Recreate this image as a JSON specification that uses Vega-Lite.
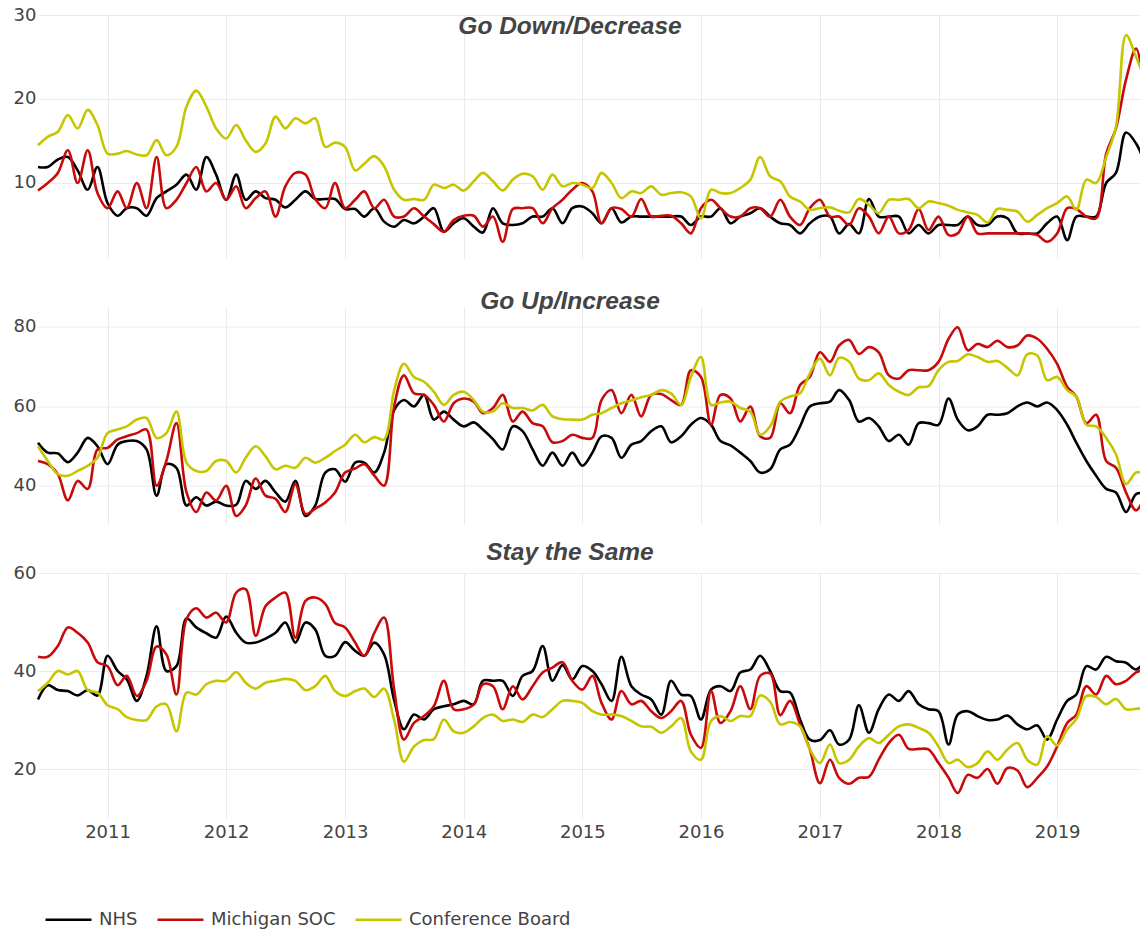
{
"$schema": "https://vega.github.io/schema/vega-lite/v6.json",
"background": "white",
"padding": {"left": 0, "top": 6, "right": 0, "bottom": 0},
"autosize": {"type": "pad"},
"bounds": "flush",
"spacing": 48.5,
"config": {
  "view": {"stroke": null},
  "axis": {"labelFont": "DejaVu Sans", "labelFontSize": 18, "labelColor": "#444", "gridColor": "#ebebeb", "gridWidth": 1, "domain": false, "ticks": false, "title": null, "labelFlush": false},
  "title": {"font": "Liberation Sans", "fontSize": 24.5, "fontStyle": "italic", "fontWeight": "bold", "color": "#444", "anchor": "middle", "frame": "group", "baseline": "alphabetic", "dx": -19},
  "line": {"strokeWidth": 2.6, "interpolate": "catmull-rom", "clip": true}
},
"datasets": {
"down": [
{"d":"2010-06-01","NHS":11.9,"Michigan SOC":9.1,"Conference Board":14.5},
{"d":"2010-07-01","NHS":11.9,"Michigan SOC":10.0,"Conference Board":15.5},
{"d":"2010-08-01","NHS":12.8,"Michigan SOC":11.2,"Conference Board":16.1},
{"d":"2010-09-01","NHS":13.1,"Michigan SOC":13.9,"Conference Board":18.1},
{"d":"2010-10-01","NHS":11.5,"Michigan SOC":10.0,"Conference Board":16.5},
{"d":"2010-11-01","NHS":9.2,"Michigan SOC":13.9,"Conference Board":18.7},
{"d":"2010-12-01","NHS":11.9,"Michigan SOC":8.8,"Conference Board":16.9},
{"d":"2011-01-01","NHS":7.6,"Michigan SOC":7.0,"Conference Board":13.5},
{"d":"2011-02-01","NHS":6.1,"Michigan SOC":9.0,"Conference Board":13.5},
{"d":"2011-03-01","NHS":7.0,"Michigan SOC":7.0,"Conference Board":13.8},
{"d":"2011-04-01","NHS":7.0,"Michigan SOC":10.0,"Conference Board":13.4},
{"d":"2011-05-01","NHS":6.1,"Michigan SOC":7.0,"Conference Board":13.3},
{"d":"2011-06-01","NHS":8.2,"Michigan SOC":13.1,"Conference Board":15.1},
{"d":"2011-07-01","NHS":9.0,"Michigan SOC":7.0,"Conference Board":13.3},
{"d":"2011-08-01","NHS":9.8,"Michigan SOC":8.0,"Conference Board":14.3},
{"d":"2011-09-01","NHS":11.0,"Michigan SOC":10.0,"Conference Board":19.1},
{"d":"2011-10-01","NHS":9.2,"Michigan SOC":11.9,"Conference Board":21.0},
{"d":"2011-11-01","NHS":13.1,"Michigan SOC":9.0,"Conference Board":19.1},
{"d":"2011-12-01","NHS":11.0,"Michigan SOC":10.0,"Conference Board":16.5},
{"d":"2012-01-01","NHS":8.0,"Michigan SOC":8.0,"Conference Board":15.3},
{"d":"2012-02-01","NHS":11.0,"Michigan SOC":9.6,"Conference Board":16.9},
{"d":"2012-03-01","NHS":8.0,"Michigan SOC":7.0,"Conference Board":15.1},
{"d":"2012-04-01","NHS":9.0,"Michigan SOC":8.2,"Conference Board":13.7},
{"d":"2012-05-01","NHS":8.2,"Michigan SOC":9.0,"Conference Board":14.7},
{"d":"2012-06-01","NHS":8.0,"Michigan SOC":6.0,"Conference Board":17.9},
{"d":"2012-07-01","NHS":7.1,"Michigan SOC":9.6,"Conference Board":16.5},
{"d":"2012-08-01","NHS":8.0,"Michigan SOC":11.2,"Conference Board":17.7},
{"d":"2012-09-01","NHS":9.0,"Michigan SOC":11.0,"Conference Board":17.1},
{"d":"2012-10-01","NHS":8.1,"Michigan SOC":8.1,"Conference Board":17.7},
{"d":"2012-11-01","NHS":8.1,"Michigan SOC":7.0,"Conference Board":14.3},
{"d":"2012-12-01","NHS":8.1,"Michigan SOC":10.0,"Conference Board":14.8},
{"d":"2013-01-01","NHS":6.9,"Michigan SOC":7.0,"Conference Board":14.3},
{"d":"2013-02-01","NHS":6.9,"Michigan SOC":8.0,"Conference Board":11.5},
{"d":"2013-03-01","NHS":6.0,"Michigan SOC":9.0,"Conference Board":12.3},
{"d":"2013-04-01","NHS":7.0,"Michigan SOC":7.0,"Conference Board":13.2},
{"d":"2013-05-01","NHS":5.4,"Michigan SOC":8.0,"Conference Board":12.0},
{"d":"2013-06-01","NHS":4.8,"Michigan SOC":6.0,"Conference Board":9.2},
{"d":"2013-07-01","NHS":5.6,"Michigan SOC":6.0,"Conference Board":8.0},
{"d":"2013-08-01","NHS":5.2,"Michigan SOC":7.0,"Conference Board":8.1},
{"d":"2013-09-01","NHS":6.0,"Michigan SOC":6.0,"Conference Board":8.0},
{"d":"2013-10-01","NHS":7.0,"Michigan SOC":5.1,"Conference Board":9.8},
{"d":"2013-11-01","NHS":4.2,"Michigan SOC":4.2,"Conference Board":9.4},
{"d":"2013-12-01","NHS":5.2,"Michigan SOC":5.6,"Conference Board":9.8},
{"d":"2014-01-01","NHS":5.8,"Michigan SOC":6.1,"Conference Board":9.1},
{"d":"2014-02-01","NHS":4.8,"Michigan SOC":6.1,"Conference Board":10.2},
{"d":"2014-03-01","NHS":4.1,"Michigan SOC":4.8,"Conference Board":11.2},
{"d":"2014-04-01","NHS":7.0,"Michigan SOC":6.0,"Conference Board":10.2},
{"d":"2014-05-01","NHS":5.2,"Michigan SOC":3.0,"Conference Board":9.1},
{"d":"2014-06-01","NHS":5.0,"Michigan SOC":6.9,"Conference Board":10.4},
{"d":"2014-07-01","NHS":5.2,"Michigan SOC":7.0,"Conference Board":11.1},
{"d":"2014-08-01","NHS":6.0,"Michigan SOC":7.0,"Conference Board":10.8},
{"d":"2014-09-01","NHS":6.0,"Michigan SOC":5.2,"Conference Board":9.2},
{"d":"2014-10-01","NHS":7.0,"Michigan SOC":7.0,"Conference Board":11.0},
{"d":"2014-11-01","NHS":5.2,"Michigan SOC":8.0,"Conference Board":9.6},
{"d":"2014-12-01","NHS":7.0,"Michigan SOC":9.2,"Conference Board":10.0},
{"d":"2015-01-01","NHS":7.2,"Michigan SOC":10.0,"Conference Board":9.8},
{"d":"2015-02-01","NHS":6.4,"Michigan SOC":9.0,"Conference Board":9.4},
{"d":"2015-03-01","NHS":5.2,"Michigan SOC":5.2,"Conference Board":11.2},
{"d":"2015-04-01","NHS":7.0,"Michigan SOC":7.0,"Conference Board":10.0},
{"d":"2015-05-01","NHS":5.3,"Michigan SOC":6.9,"Conference Board":8.2},
{"d":"2015-06-01","NHS":6.0,"Michigan SOC":6.0,"Conference Board":9.0},
{"d":"2015-07-01","NHS":6.0,"Michigan SOC":8.1,"Conference Board":8.8},
{"d":"2015-08-01","NHS":6.0,"Michigan SOC":6.0,"Conference Board":9.6},
{"d":"2015-09-01","NHS":6.0,"Michigan SOC":6.1,"Conference Board":8.6},
{"d":"2015-10-01","NHS":6.0,"Michigan SOC":6.1,"Conference Board":8.8},
{"d":"2015-11-01","NHS":6.0,"Michigan SOC":5.2,"Conference Board":8.9},
{"d":"2015-12-01","NHS":5.0,"Michigan SOC":4.0,"Conference Board":8.4},
{"d":"2016-01-01","NHS":6.0,"Michigan SOC":7.0,"Conference Board":5.8},
{"d":"2016-02-01","NHS":6.0,"Michigan SOC":8.0,"Conference Board":9.2},
{"d":"2016-03-01","NHS":7.0,"Michigan SOC":7.0,"Conference Board":8.8},
{"d":"2016-04-01","NHS":5.2,"Michigan SOC":6.0,"Conference Board":8.8},
{"d":"2016-05-01","NHS":6.0,"Michigan SOC":6.0,"Conference Board":9.4},
{"d":"2016-06-01","NHS":6.4,"Michigan SOC":7.0,"Conference Board":10.4},
{"d":"2016-07-01","NHS":7.0,"Michigan SOC":7.0,"Conference Board":13.1},
{"d":"2016-08-01","NHS":6.0,"Michigan SOC":6.0,"Conference Board":10.8},
{"d":"2016-09-01","NHS":5.2,"Michigan SOC":8.0,"Conference Board":10.2},
{"d":"2016-10-01","NHS":5.0,"Michigan SOC":6.0,"Conference Board":8.4},
{"d":"2016-11-01","NHS":4.0,"Michigan SOC":5.0,"Conference Board":7.8},
{"d":"2016-12-01","NHS":5.2,"Michigan SOC":7.0,"Conference Board":6.8},
{"d":"2017-01-01","NHS":6.0,"Michigan SOC":8.0,"Conference Board":7.0},
{"d":"2017-02-01","NHS":6.0,"Michigan SOC":6.0,"Conference Board":7.1},
{"d":"2017-03-01","NHS":4.0,"Michigan SOC":6.0,"Conference Board":6.7},
{"d":"2017-04-01","NHS":5.1,"Michigan SOC":5.0,"Conference Board":6.5},
{"d":"2017-05-01","NHS":4.0,"Michigan SOC":7.0,"Conference Board":8.1},
{"d":"2017-06-01","NHS":8.1,"Michigan SOC":6.0,"Conference Board":7.4},
{"d":"2017-07-01","NHS":6.0,"Michigan SOC":4.0,"Conference Board":6.4},
{"d":"2017-08-01","NHS":6.0,"Michigan SOC":6.0,"Conference Board":8.0},
{"d":"2017-09-01","NHS":6.0,"Michigan SOC":4.0,"Conference Board":8.0},
{"d":"2017-10-01","NHS":4.0,"Michigan SOC":4.4,"Conference Board":8.1},
{"d":"2017-11-01","NHS":5.0,"Michigan SOC":6.9,"Conference Board":7.0},
{"d":"2017-12-01","NHS":4.0,"Michigan SOC":4.4,"Conference Board":7.8},
{"d":"2018-01-01","NHS":5.0,"Michigan SOC":6.0,"Conference Board":7.6},
{"d":"2018-02-01","NHS":5.0,"Michigan SOC":3.8,"Conference Board":7.3},
{"d":"2018-03-01","NHS":5.0,"Michigan SOC":4.0,"Conference Board":6.8},
{"d":"2018-04-01","NHS":6.0,"Michigan SOC":6.0,"Conference Board":6.5},
{"d":"2018-05-01","NHS":5.0,"Michigan SOC":4.0,"Conference Board":6.2},
{"d":"2018-06-01","NHS":5.0,"Michigan SOC":4.0,"Conference Board":5.3},
{"d":"2018-07-01","NHS":6.0,"Michigan SOC":4.0,"Conference Board":6.9},
{"d":"2018-08-01","NHS":5.8,"Michigan SOC":4.0,"Conference Board":6.8},
{"d":"2018-09-01","NHS":4.0,"Michigan SOC":4.0,"Conference Board":6.6},
{"d":"2018-10-01","NHS":4.0,"Michigan SOC":4.0,"Conference Board":5.4},
{"d":"2018-11-01","NHS":4.0,"Michigan SOC":3.8,"Conference Board":6.2},
{"d":"2018-12-01","NHS":5.2,"Michigan SOC":3.0,"Conference Board":7.0},
{"d":"2019-01-01","NHS":6.0,"Michigan SOC":4.0,"Conference Board":7.6},
{"d":"2019-02-01","NHS":3.2,"Michigan SOC":7.0,"Conference Board":8.4},
{"d":"2019-03-01","NHS":6.0,"Michigan SOC":6.9,"Conference Board":6.8},
{"d":"2019-04-01","NHS":6.0,"Michigan SOC":6.0,"Conference Board":10.4},
{"d":"2019-05-01","NHS":6.0,"Michigan SOC":5.8,"Conference Board":10.0},
{"d":"2019-06-01","NHS":10.0,"Michigan SOC":13.5,"Conference Board":13.1},
{"d":"2019-07-01","NHS":11.2,"Michigan SOC":16.5,"Conference Board":16.7},
{"d":"2019-08-01","NHS":16.0,"Michigan SOC":22.3,"Conference Board":27.6},
{"d":"2019-09-01","NHS":14.7,"Michigan SOC":26.0,"Conference Board":25.0},
{"d":"2019-10-01","NHS":12.0,"Michigan SOC":20.0,"Conference Board":22.0}
],
"up": [
{"d":"2010-06-01","NHS":50.8,"Michigan SOC":46.2,"Conference Board":49.9},
{"d":"2010-07-01","NHS":48.3,"Michigan SOC":45.4,"Conference Board":46.2},
{"d":"2010-08-01","NHS":48.1,"Michigan SOC":42.9,"Conference Board":42.9},
{"d":"2010-09-01","NHS":45.9,"Michigan SOC":36.3,"Conference Board":42.5},
{"d":"2010-10-01","NHS":48.3,"Michigan SOC":41.2,"Conference Board":43.7},
{"d":"2010-11-01","NHS":52.0,"Michigan SOC":39.2,"Conference Board":45.0},
{"d":"2010-12-01","NHS":49.9,"Michigan SOC":49.1,"Conference Board":47.0},
{"d":"2011-01-01","NHS":45.4,"Michigan SOC":49.5,"Conference Board":53.2},
{"d":"2011-02-01","NHS":50.3,"Michigan SOC":51.6,"Conference Board":54.1},
{"d":"2011-03-01","NHS":51.2,"Michigan SOC":52.4,"Conference Board":54.9},
{"d":"2011-04-01","NHS":51.2,"Michigan SOC":53.2,"Conference Board":56.6},
{"d":"2011-05-01","NHS":49.1,"Michigan SOC":54.1,"Conference Board":57.0},
{"d":"2011-06-01","NHS":37.5,"Michigan SOC":40.0,"Conference Board":52.0},
{"d":"2011-07-01","NHS":45.4,"Michigan SOC":46.2,"Conference Board":53.2},
{"d":"2011-08-01","NHS":44.5,"Michigan SOC":55.7,"Conference Board":58.6},
{"d":"2011-09-01","NHS":35.0,"Michigan SOC":38.3,"Conference Board":45.8},
{"d":"2011-10-01","NHS":37.1,"Michigan SOC":33.4,"Conference Board":43.7},
{"d":"2011-11-01","NHS":35.0,"Michigan SOC":38.3,"Conference Board":43.7},
{"d":"2011-12-01","NHS":36.0,"Michigan SOC":36.3,"Conference Board":46.2},
{"d":"2012-01-01","NHS":35.0,"Michigan SOC":40.0,"Conference Board":46.2},
{"d":"2012-02-01","NHS":35.2,"Michigan SOC":32.4,"Conference Board":43.3},
{"d":"2012-03-01","NHS":41.2,"Michigan SOC":35.0,"Conference Board":47.0},
{"d":"2012-04-01","NHS":39.2,"Michigan SOC":41.8,"Conference Board":49.9},
{"d":"2012-05-01","NHS":41.2,"Michigan SOC":37.5,"Conference Board":47.4},
{"d":"2012-06-01","NHS":38.3,"Michigan SOC":36.7,"Conference Board":44.1},
{"d":"2012-07-01","NHS":36.0,"Michigan SOC":33.4,"Conference Board":45.0},
{"d":"2012-08-01","NHS":41.2,"Michigan SOC":40.4,"Conference Board":44.5},
{"d":"2012-09-01","NHS":32.4,"Michigan SOC":32.9,"Conference Board":47.0},
{"d":"2012-10-01","NHS":35.0,"Michigan SOC":34.2,"Conference Board":45.8},
{"d":"2012-11-01","NHS":43.3,"Michigan SOC":35.8,"Conference Board":47.0},
{"d":"2012-12-01","NHS":44.1,"Michigan SOC":38.3,"Conference Board":48.7},
{"d":"2013-01-01","NHS":41.0,"Michigan SOC":43.3,"Conference Board":50.3},
{"d":"2013-02-01","NHS":45.8,"Michigan SOC":44.3,"Conference Board":52.8},
{"d":"2013-03-01","NHS":45.8,"Michigan SOC":45.4,"Conference Board":50.9},
{"d":"2013-04-01","NHS":43.3,"Michigan SOC":42.5,"Conference Board":52.2},
{"d":"2013-05-01","NHS":48.3,"Michigan SOC":40.0,"Conference Board":51.6},
{"d":"2013-06-01","NHS":59.0,"Michigan SOC":60.0,"Conference Board":64.0},
{"d":"2013-07-01","NHS":61.5,"Michigan SOC":67.7,"Conference Board":70.6},
{"d":"2013-08-01","NHS":59.9,"Michigan SOC":63.2,"Conference Board":67.3},
{"d":"2013-09-01","NHS":62.8,"Michigan SOC":62.8,"Conference Board":66.1},
{"d":"2013-10-01","NHS":56.6,"Michigan SOC":60.3,"Conference Board":63.6},
{"d":"2013-11-01","NHS":58.6,"Michigan SOC":56.1,"Conference Board":60.3},
{"d":"2013-12-01","NHS":56.6,"Michigan SOC":60.7,"Conference Board":62.8},
{"d":"2014-01-01","NHS":54.9,"Michigan SOC":61.9,"Conference Board":63.6},
{"d":"2014-02-01","NHS":55.9,"Michigan SOC":61.1,"Conference Board":61.5},
{"d":"2014-03-01","NHS":54.1,"Michigan SOC":58.2,"Conference Board":58.6},
{"d":"2014-04-01","NHS":51.7,"Michigan SOC":59.5,"Conference Board":58.6},
{"d":"2014-05-01","NHS":49.1,"Michigan SOC":62.8,"Conference Board":60.7},
{"d":"2014-06-01","NHS":54.9,"Michigan SOC":56.1,"Conference Board":59.5},
{"d":"2014-07-01","NHS":53.7,"Michigan SOC":58.6,"Conference Board":59.5},
{"d":"2014-08-01","NHS":49.1,"Michigan SOC":55.7,"Conference Board":58.9},
{"d":"2014-09-01","NHS":45.0,"Michigan SOC":54.9,"Conference Board":60.3},
{"d":"2014-10-01","NHS":48.3,"Michigan SOC":50.9,"Conference Board":57.4},
{"d":"2014-11-01","NHS":45.0,"Michigan SOC":51.2,"Conference Board":56.7},
{"d":"2014-12-01","NHS":48.3,"Michigan SOC":52.8,"Conference Board":56.6},
{"d":"2015-01-01","NHS":45.0,"Michigan SOC":52.0,"Conference Board":56.6},
{"d":"2015-02-01","NHS":48.3,"Michigan SOC":52.0,"Conference Board":57.8},
{"d":"2015-03-01","NHS":52.4,"Michigan SOC":61.5,"Conference Board":58.2},
{"d":"2015-04-01","NHS":52.0,"Michigan SOC":64.0,"Conference Board":59.5},
{"d":"2015-05-01","NHS":47.0,"Michigan SOC":58.2,"Conference Board":60.7},
{"d":"2015-06-01","NHS":50.3,"Michigan SOC":62.8,"Conference Board":61.4},
{"d":"2015-07-01","NHS":51.2,"Michigan SOC":57.4,"Conference Board":62.2},
{"d":"2015-08-01","NHS":53.7,"Michigan SOC":62.8,"Conference Board":62.8},
{"d":"2015-09-01","NHS":54.9,"Michigan SOC":63.0,"Conference Board":64.0},
{"d":"2015-10-01","NHS":50.9,"Michigan SOC":61.5,"Conference Board":63.2},
{"d":"2015-11-01","NHS":52.4,"Michigan SOC":60.3,"Conference Board":60.3},
{"d":"2015-12-01","NHS":55.3,"Michigan SOC":69.0,"Conference Board":67.3},
{"d":"2016-01-01","NHS":57.0,"Michigan SOC":67.3,"Conference Board":72.3},
{"d":"2016-02-01","NHS":55.3,"Michigan SOC":55.3,"Conference Board":60.3},
{"d":"2016-03-01","NHS":51.2,"Michigan SOC":62.8,"Conference Board":60.9},
{"d":"2016-04-01","NHS":50.1,"Michigan SOC":61.9,"Conference Board":61.1},
{"d":"2016-05-01","NHS":48.3,"Michigan SOC":56.1,"Conference Board":59.5},
{"d":"2016-06-01","NHS":46.2,"Michigan SOC":59.9,"Conference Board":58.6},
{"d":"2016-07-01","NHS":43.3,"Michigan SOC":52.4,"Conference Board":52.8},
{"d":"2016-08-01","NHS":44.1,"Michigan SOC":52.0,"Conference Board":54.9},
{"d":"2016-09-01","NHS":49.1,"Michigan SOC":60.7,"Conference Board":61.1},
{"d":"2016-10-01","NHS":50.3,"Michigan SOC":58.2,"Conference Board":62.4},
{"d":"2016-11-01","NHS":54.9,"Michigan SOC":65.3,"Conference Board":63.2},
{"d":"2016-12-01","NHS":59.9,"Michigan SOC":67.3,"Conference Board":68.2},
{"d":"2017-01-01","NHS":60.7,"Michigan SOC":73.5,"Conference Board":71.9},
{"d":"2017-02-01","NHS":61.1,"Michigan SOC":71.1,"Conference Board":67.7},
{"d":"2017-03-01","NHS":64.0,"Michigan SOC":75.2,"Conference Board":72.1},
{"d":"2017-04-01","NHS":61.5,"Michigan SOC":76.6,"Conference Board":71.1},
{"d":"2017-05-01","NHS":56.1,"Michigan SOC":73.1,"Conference Board":66.9},
{"d":"2017-06-01","NHS":57.0,"Michigan SOC":74.8,"Conference Board":66.5},
{"d":"2017-07-01","NHS":54.9,"Michigan SOC":73.5,"Conference Board":68.2},
{"d":"2017-08-01","NHS":51.2,"Michigan SOC":67.7,"Conference Board":65.3},
{"d":"2017-09-01","NHS":52.8,"Michigan SOC":66.9,"Conference Board":63.6},
{"d":"2017-10-01","NHS":50.3,"Michigan SOC":69.0,"Conference Board":62.8},
{"d":"2017-11-01","NHS":55.7,"Michigan SOC":69.0,"Conference Board":64.7},
{"d":"2017-12-01","NHS":55.7,"Michigan SOC":69.0,"Conference Board":65.0},
{"d":"2018-01-01","NHS":55.3,"Michigan SOC":71.1,"Conference Board":69.0},
{"d":"2018-02-01","NHS":61.9,"Michigan SOC":76.9,"Conference Board":71.1},
{"d":"2018-03-01","NHS":56.6,"Michigan SOC":79.8,"Conference Board":71.3},
{"d":"2018-04-01","NHS":53.9,"Michigan SOC":74.0,"Conference Board":73.0},
{"d":"2018-05-01","NHS":54.9,"Michigan SOC":75.6,"Conference Board":72.3},
{"d":"2018-06-01","NHS":57.8,"Michigan SOC":74.8,"Conference Board":71.1},
{"d":"2018-07-01","NHS":57.8,"Michigan SOC":76.4,"Conference Board":71.3},
{"d":"2018-08-01","NHS":58.2,"Michigan SOC":74.8,"Conference Board":69.6},
{"d":"2018-09-01","NHS":59.9,"Michigan SOC":75.2,"Conference Board":67.7},
{"d":"2018-10-01","NHS":60.9,"Michigan SOC":77.7,"Conference Board":73.0},
{"d":"2018-11-01","NHS":59.9,"Michigan SOC":76.9,"Conference Board":72.7},
{"d":"2018-12-01","NHS":60.9,"Michigan SOC":74.4,"Conference Board":66.5},
{"d":"2019-01-01","NHS":59.0,"Michigan SOC":70.6,"Conference Board":67.3},
{"d":"2019-02-01","NHS":55.3,"Michigan SOC":64.8,"Conference Board":64.0},
{"d":"2019-03-01","NHS":50.8,"Michigan SOC":62.4,"Conference Board":62.4},
{"d":"2019-04-01","NHS":46.2,"Michigan SOC":55.7,"Conference Board":55.3},
{"d":"2019-05-01","NHS":42.5,"Michigan SOC":57.8,"Conference Board":54.9},
{"d":"2019-06-01","NHS":39.2,"Michigan SOC":46.2,"Conference Board":52.0},
{"d":"2019-07-01","NHS":38.3,"Michigan SOC":44.5,"Conference Board":47.9},
{"d":"2019-08-01","NHS":33.4,"Michigan SOC":38.3,"Conference Board":40.4},
{"d":"2019-09-01","NHS":37.9,"Michigan SOC":33.8,"Conference Board":43.3},
{"d":"2019-10-01","NHS":38.0,"Michigan SOC":38.0,"Conference Board":43.0}
],
"same": [
{"d":"2010-06-01","NHS":34.2,"Michigan SOC":42.9,"Conference Board":35.9},
{"d":"2010-07-01","NHS":37.1,"Michigan SOC":42.9,"Conference Board":37.6},
{"d":"2010-08-01","NHS":36.1,"Michigan SOC":45.1,"Conference Board":40.0},
{"d":"2010-09-01","NHS":35.9,"Michigan SOC":48.9,"Conference Board":39.3},
{"d":"2010-10-01","NHS":35.0,"Michigan SOC":47.8,"Conference Board":40.0},
{"d":"2010-11-01","NHS":36.1,"Michigan SOC":45.8,"Conference Board":36.1},
{"d":"2010-12-01","NHS":35.0,"Michigan SOC":41.8,"Conference Board":35.6},
{"d":"2011-01-01","NHS":43.1,"Michigan SOC":41.0,"Conference Board":33.0},
{"d":"2011-02-01","NHS":40.0,"Michigan SOC":37.1,"Conference Board":32.2},
{"d":"2011-03-01","NHS":38.3,"Michigan SOC":39.0,"Conference Board":30.6},
{"d":"2011-04-01","NHS":33.9,"Michigan SOC":34.9,"Conference Board":30.0},
{"d":"2011-05-01","NHS":39.0,"Michigan SOC":38.0,"Conference Board":30.0},
{"d":"2011-06-01","NHS":49.1,"Michigan SOC":45.0,"Conference Board":32.8},
{"d":"2011-07-01","NHS":40.0,"Michigan SOC":43.4,"Conference Board":33.2},
{"d":"2011-08-01","NHS":41.0,"Michigan SOC":35.2,"Conference Board":27.7},
{"d":"2011-09-01","NHS":50.7,"Michigan SOC":50.6,"Conference Board":35.6},
{"d":"2011-10-01","NHS":48.9,"Michigan SOC":52.8,"Conference Board":35.2},
{"d":"2011-11-01","NHS":47.7,"Michigan SOC":50.9,"Conference Board":37.3},
{"d":"2011-12-01","NHS":46.8,"Michigan SOC":51.9,"Conference Board":38.0},
{"d":"2012-01-01","NHS":51.1,"Michigan SOC":49.9,"Conference Board":38.0},
{"d":"2012-02-01","NHS":47.8,"Michigan SOC":56.0,"Conference Board":39.8},
{"d":"2012-03-01","NHS":45.8,"Michigan SOC":56.7,"Conference Board":37.6},
{"d":"2012-04-01","NHS":45.8,"Michigan SOC":47.2,"Conference Board":36.4},
{"d":"2012-05-01","NHS":46.6,"Michigan SOC":53.2,"Conference Board":37.6},
{"d":"2012-06-01","NHS":47.8,"Michigan SOC":55.0,"Conference Board":38.0},
{"d":"2012-07-01","NHS":49.9,"Michigan SOC":56.0,"Conference Board":38.4},
{"d":"2012-08-01","NHS":45.8,"Michigan SOC":46.8,"Conference Board":38.0},
{"d":"2012-09-01","NHS":49.9,"Michigan SOC":54.3,"Conference Board":36.1},
{"d":"2012-10-01","NHS":48.5,"Michigan SOC":55.0,"Conference Board":36.9},
{"d":"2012-11-01","NHS":43.1,"Michigan SOC":53.7,"Conference Board":39.0},
{"d":"2012-12-01","NHS":43.1,"Michigan SOC":49.8,"Conference Board":35.9},
{"d":"2013-01-01","NHS":45.9,"Michigan SOC":48.9,"Conference Board":34.9},
{"d":"2013-02-01","NHS":44.1,"Michigan SOC":45.8,"Conference Board":35.9},
{"d":"2013-03-01","NHS":43.1,"Michigan SOC":43.1,"Conference Board":36.4},
{"d":"2013-04-01","NHS":45.8,"Michigan SOC":47.8,"Conference Board":34.7},
{"d":"2013-05-01","NHS":43.4,"Michigan SOC":50.9,"Conference Board":36.4},
{"d":"2013-06-01","NHS":34.0,"Michigan SOC":36.2,"Conference Board":30.0},
{"d":"2013-07-01","NHS":28.1,"Michigan SOC":26.0,"Conference Board":21.5},
{"d":"2013-08-01","NHS":31.1,"Michigan SOC":29.4,"Conference Board":24.6},
{"d":"2013-09-01","NHS":30.1,"Michigan SOC":30.8,"Conference Board":25.9},
{"d":"2013-10-01","NHS":32.2,"Michigan SOC":32.8,"Conference Board":26.1},
{"d":"2013-11-01","NHS":32.8,"Michigan SOC":38.0,"Conference Board":30.1},
{"d":"2013-12-01","NHS":33.2,"Michigan SOC":32.2,"Conference Board":27.7},
{"d":"2014-01-01","NHS":33.9,"Michigan SOC":32.2,"Conference Board":27.4},
{"d":"2014-02-01","NHS":33.2,"Michigan SOC":33.2,"Conference Board":28.7},
{"d":"2014-03-01","NHS":38.0,"Michigan SOC":37.3,"Conference Board":30.4},
{"d":"2014-04-01","NHS":38.0,"Michigan SOC":36.9,"Conference Board":31.1},
{"d":"2014-05-01","NHS":38.0,"Michigan SOC":32.2,"Conference Board":29.8},
{"d":"2014-06-01","NHS":34.9,"Michigan SOC":36.9,"Conference Board":30.1},
{"d":"2014-07-01","NHS":39.0,"Michigan SOC":34.2,"Conference Board":29.6},
{"d":"2014-08-01","NHS":40.0,"Michigan SOC":36.9,"Conference Board":31.1},
{"d":"2014-09-01","NHS":45.1,"Michigan SOC":39.7,"Conference Board":30.6},
{"d":"2014-10-01","NHS":38.0,"Michigan SOC":40.7,"Conference Board":32.2},
{"d":"2014-11-01","NHS":41.2,"Michigan SOC":41.8,"Conference Board":33.9},
{"d":"2014-12-01","NHS":38.3,"Michigan SOC":38.0,"Conference Board":33.9},
{"d":"2015-01-01","NHS":41.0,"Michigan SOC":36.2,"Conference Board":33.5},
{"d":"2015-02-01","NHS":40.0,"Michigan SOC":39.0,"Conference Board":31.8},
{"d":"2015-03-01","NHS":37.3,"Michigan SOC":33.5,"Conference Board":31.1},
{"d":"2015-04-01","NHS":33.9,"Michigan SOC":30.1,"Conference Board":31.1},
{"d":"2015-05-01","NHS":42.9,"Michigan SOC":35.9,"Conference Board":30.8},
{"d":"2015-06-01","NHS":36.9,"Michigan SOC":33.2,"Conference Board":29.8},
{"d":"2015-07-01","NHS":35.2,"Michigan SOC":33.9,"Conference Board":28.7},
{"d":"2015-08-01","NHS":34.2,"Michigan SOC":31.8,"Conference Board":28.6},
{"d":"2015-09-01","NHS":31.1,"Michigan SOC":30.4,"Conference Board":27.4},
{"d":"2015-10-01","NHS":38.0,"Michigan SOC":31.8,"Conference Board":28.7},
{"d":"2015-11-01","NHS":35.2,"Michigan SOC":33.9,"Conference Board":30.4},
{"d":"2015-12-01","NHS":34.9,"Michigan SOC":27.0,"Conference Board":23.6},
{"d":"2016-01-01","NHS":30.1,"Michigan SOC":24.3,"Conference Board":21.9},
{"d":"2016-02-01","NHS":36.2,"Michigan SOC":35.9,"Conference Board":29.8},
{"d":"2016-03-01","NHS":36.9,"Michigan SOC":29.4,"Conference Board":30.8},
{"d":"2016-04-01","NHS":35.9,"Michigan SOC":31.8,"Conference Board":29.8},
{"d":"2016-05-01","NHS":39.7,"Michigan SOC":36.9,"Conference Board":30.8},
{"d":"2016-06-01","NHS":40.3,"Michigan SOC":32.2,"Conference Board":30.8},
{"d":"2016-07-01","NHS":43.1,"Michigan SOC":39.0,"Conference Board":35.0},
{"d":"2016-08-01","NHS":40.0,"Michigan SOC":39.5,"Conference Board":33.7},
{"d":"2016-09-01","NHS":35.9,"Michigan SOC":31.0,"Conference Board":29.1},
{"d":"2016-10-01","NHS":35.6,"Michigan SOC":33.9,"Conference Board":29.6},
{"d":"2016-11-01","NHS":30.1,"Michigan SOC":29.1,"Conference Board":28.7},
{"d":"2016-12-01","NHS":26.0,"Michigan SOC":24.0,"Conference Board":24.0},
{"d":"2017-01-01","NHS":25.9,"Michigan SOC":17.1,"Conference Board":21.2},
{"d":"2017-02-01","NHS":27.9,"Michigan SOC":21.9,"Conference Board":25.0},
{"d":"2017-03-01","NHS":25.0,"Michigan SOC":18.2,"Conference Board":21.2},
{"d":"2017-04-01","NHS":26.0,"Michigan SOC":17.0,"Conference Board":21.9},
{"d":"2017-05-01","NHS":33.0,"Michigan SOC":18.2,"Conference Board":24.6},
{"d":"2017-06-01","NHS":27.4,"Michigan SOC":18.4,"Conference Board":26.3},
{"d":"2017-07-01","NHS":32.2,"Michigan SOC":21.9,"Conference Board":25.3},
{"d":"2017-08-01","NHS":35.2,"Michigan SOC":25.3,"Conference Board":27.0},
{"d":"2017-09-01","NHS":33.9,"Michigan SOC":27.0,"Conference Board":28.7},
{"d":"2017-10-01","NHS":35.9,"Michigan SOC":24.1,"Conference Board":29.1},
{"d":"2017-11-01","NHS":33.2,"Michigan SOC":24.1,"Conference Board":28.4},
{"d":"2017-12-01","NHS":32.2,"Michigan SOC":24.0,"Conference Board":27.4},
{"d":"2018-01-01","NHS":31.8,"Michigan SOC":21.2,"Conference Board":24.6},
{"d":"2018-02-01","NHS":25.0,"Michigan SOC":18.2,"Conference Board":21.2},
{"d":"2018-03-01","NHS":31.1,"Michigan SOC":15.1,"Conference Board":21.9},
{"d":"2018-04-01","NHS":31.8,"Michigan SOC":18.8,"Conference Board":20.4},
{"d":"2018-05-01","NHS":30.8,"Michigan SOC":18.2,"Conference Board":21.2},
{"d":"2018-06-01","NHS":30.0,"Michigan SOC":20.0,"Conference Board":23.6},
{"d":"2018-07-01","NHS":30.1,"Michigan SOC":17.0,"Conference Board":21.9},
{"d":"2018-08-01","NHS":30.9,"Michigan SOC":20.2,"Conference Board":24.0},
{"d":"2018-09-01","NHS":29.1,"Michigan SOC":19.7,"Conference Board":25.3},
{"d":"2018-10-01","NHS":28.1,"Michigan SOC":16.3,"Conference Board":21.9},
{"d":"2018-11-01","NHS":28.9,"Michigan SOC":18.2,"Conference Board":20.9},
{"d":"2018-12-01","NHS":26.0,"Michigan SOC":20.5,"Conference Board":26.7},
{"d":"2019-01-01","NHS":30.1,"Michigan SOC":24.6,"Conference Board":24.8},
{"d":"2019-02-01","NHS":33.9,"Michigan SOC":29.4,"Conference Board":28.1},
{"d":"2019-03-01","NHS":35.2,"Michigan SOC":31.1,"Conference Board":30.2},
{"d":"2019-04-01","NHS":41.0,"Michigan SOC":36.9,"Conference Board":34.9},
{"d":"2019-05-01","NHS":40.3,"Michigan SOC":35.2,"Conference Board":34.7},
{"d":"2019-06-01","NHS":42.9,"Michigan SOC":39.0,"Conference Board":33.2},
{"d":"2019-07-01","NHS":42.0,"Michigan SOC":37.3,"Conference Board":34.3},
{"d":"2019-08-01","NHS":41.7,"Michigan SOC":38.0,"Conference Board":32.2},
{"d":"2019-09-01","NHS":40.3,"Michigan SOC":39.7,"Conference Board":32.3},
{"d":"2019-10-01","NHS":42.5,"Michigan SOC":40.3,"Conference Board":32.5}
]
},
"vconcat": [
{
  "width": 1102, "height": 243,
  "title": {"text": "Go Down/Decrease", "offset": -33},
  "data": {"name": "down"},
  "transform": [{"fold": ["NHS", "Michigan SOC", "Conference Board"], "as": ["series", "value"]}],
  "mark": {"type": "line"},
  "encoding": {
    "x": {"field": "d", "type": "temporal", "scale": {"type": "utc", "domain": [{"year": 2010, "month": 6, "date": 1, "utc": true}, {"year": 2019, "month": 9, "date": 13, "utc": true}]}, "axis": {"labels": false, "grid": true, "tickCount": {"interval": "year", "step": 1}}},
    "y": {"field": "value", "type": "quantitative", "scale": {"domain": [1.07, 30], "nice": false, "zero": false}, "axis": {"values": [10, 20, 30], "minExtent": 38, "maxExtent": 38, "labelPadding": 2}},
    "color": {"field": "series", "type": "nominal", "scale": {"domain": ["NHS", "Michigan SOC", "Conference Board"], "range": ["#000000", "#c80a0a", "#c6c600"]},
      "legend": {"orient": "none", "legendX": 6, "legendY": 880, "direction": "horizontal", "title": null, "symbolType": "stroke", "symbolSize": 2116, "symbolStrokeWidth": 3, "labelFont": "DejaVu Sans", "labelFontSize": 18, "labelColor": "#444", "labelOffset": 6, "columnPadding": 14, "labelLimit": 0}}
  }
},
{
  "width": 1102, "height": 218,
  "title": {"text": "Go Up/Increase", "offset": -8},
  "data": {"name": "up"},
  "transform": [{"fold": ["NHS", "Michigan SOC", "Conference Board"], "as": ["series", "value"]}],
  "mark": {"type": "line"},
  "encoding": {
    "x": {"field": "d", "type": "temporal", "scale": {"type": "utc", "domain": [{"year": 2010, "month": 6, "date": 1, "utc": true}, {"year": 2019, "month": 9, "date": 13, "utc": true}]}, "axis": {"labels": false, "grid": true, "tickCount": {"interval": "year", "step": 1}}},
    "y": {"field": "value", "type": "quantitative", "scale": {"domain": [30.25, 85], "nice": false, "zero": false}, "axis": {"values": [40, 60, 80], "minExtent": 38, "maxExtent": 38, "labelPadding": 2}},
    "color": {"field": "series", "type": "nominal", "scale": {"domain": ["NHS", "Michigan SOC", "Conference Board"], "range": ["#000000", "#c80a0a", "#c6c600"]},
      "legend": {"orient": "none", "legendX": 6, "legendY": 880, "direction": "horizontal", "title": null, "symbolType": "stroke", "symbolSize": 2116, "symbolStrokeWidth": 3, "labelFont": "DejaVu Sans", "labelFontSize": 18, "labelColor": "#444", "labelOffset": 6, "columnPadding": 14, "labelLimit": 0}}
  }
},
{
  "width": 1102, "height": 245,
  "title": {"text": "Stay the Same", "offset": -1},
  "data": {"name": "same"},
  "transform": [{"fold": ["NHS", "Michigan SOC", "Conference Board"], "as": ["series", "value"]}],
  "mark": {"type": "line"},
  "encoding": {
    "x": {"field": "d", "type": "temporal", "scale": {"type": "utc", "domain": [{"year": 2010, "month": 6, "date": 1, "utc": true}, {"year": 2019, "month": 9, "date": 13, "utc": true}]}, "axis": {"labels": true, "grid": true, "format": "%Y", "labelPadding": 5, "tickCount": {"interval": "year", "step": 1}}},
    "y": {"field": "value", "type": "quantitative", "scale": {"domain": [10, 60], "nice": false, "zero": false}, "axis": {"values": [20, 40, 60], "minExtent": 38, "maxExtent": 38, "labelPadding": 2}},
    "color": {"field": "series", "type": "nominal", "scale": {"domain": ["NHS", "Michigan SOC", "Conference Board"], "range": ["#000000", "#c80a0a", "#c6c600"]},
      "legend": {"orient": "none", "legendX": 6, "legendY": 880, "direction": "horizontal", "title": null, "symbolType": "stroke", "symbolSize": 2116, "symbolStrokeWidth": 3, "labelFont": "DejaVu Sans", "labelFontSize": 18, "labelColor": "#444", "labelOffset": 6, "columnPadding": 14, "labelLimit": 0}}
  }
}
],
"resolve": {"scale": {"color": "shared"}}
}
